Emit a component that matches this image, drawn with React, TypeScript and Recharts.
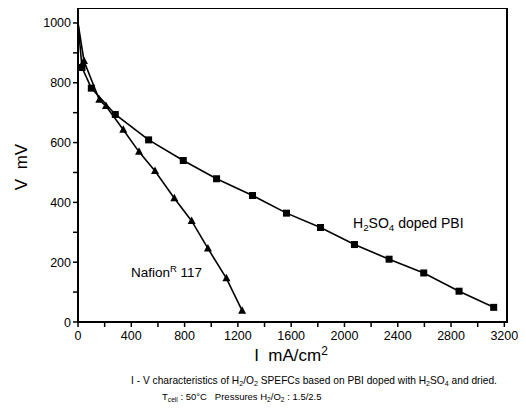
import React from 'react';
import { LineChart, Line, XAxis, YAxis, ReferenceArea } from 'recharts';

// H2SO4 doped PBI (squares)
const pbiCurrent = [0, 30, 100, 280, 530, 790, 1040, 1310, 1565, 1820, 2075, 2335, 2595, 2860, 3120];
const pbiVoltage = [1000, 851, 782, 694, 609, 540, 479, 423, 364, 316, 259, 210, 164, 103, 49];

// Nafion 117 (triangles)
const nafionCurrent = [0, 45, 160, 210, 340, 458, 578, 723, 853, 975, 1114, 1232];
const nafionVoltage = [1000, 873, 743, 722, 643, 569, 505, 414, 338, 246, 146, 38];

const xTicks = [0, 200, 400, 600, 800, 1000, 1200, 1400, 1600, 1800, 2000, 2200, 2400, 2600, 2800, 3000, 3200];
const yTicks = [0, 100, 200, 300, 400, 500, 600, 700, 800, 900, 1000];
const xMax = 3220;
const yMax = 1050;

const pbiData = pbiCurrent.map((i, k) => ({ i, v: pbiVoltage[k] }));
const nafionData = nafionCurrent.map((i, k) => ({ i, v: nafionVoltage[k] }));

const FONT = '"Liberation Sans", Arial, sans-serif';

const SquareDot = (props: any) => {
  const { cx, cy, index } = props;
  if (index === 0 || cx == null) return <g key={`s${index}`} />;
  return <rect key={`s${index}`} x={cx - 3.5} y={cy - 3.5} width={7} height={7} fill="#000" />;
};

const TriangleDot = (props: any) => {
  const { cx, cy, index } = props;
  if (index === 0 || cx == null) return <g key={`t${index}`} />;
  return (
    <polygon
      key={`t${index}`}
      points={`${cx},${cy - 4.5} ${cx + 4},${cy + 3} ${cx - 4},${cy + 3}`}
      fill="#000"
    />
  );
};

const BottomLabel = (props: any) => {
  const { x, y, payload } = props;
  if (payload.value % 400 !== 0) return <g />;
  return (
    <text x={x} y={y + 11} textAnchor="middle" fontSize={12.5} fontFamily={FONT} fill="#000">
      {payload.value}
    </text>
  );
};

const LeftLabel = (props: any) => {
  const { x, y, payload } = props;
  if (payload.value % 200 !== 0) return <g />;
  return (
    <text x={x} y={y + 4.5} textAnchor="end" fontSize={12.5} fontFamily={FONT} fill="#000">
      {payload.value}
    </text>
  );
};

const sub: React.CSSProperties = { fontSize: '70%', position: 'relative', top: '0.3em' };
const sup: React.CSSProperties = { fontSize: '70%', position: 'relative', top: '-0.5em' };

export default function App() {
  const axisLine = { stroke: '#000', strokeWidth: 2 };
  const tickLine = { stroke: '#000', strokeWidth: 1.5 };
  return (
    <div style={{ position: 'relative', width: 526, height: 414, margin: -8, fontFamily: FONT, color: '#000' }}>
      <LineChart width={526} height={414} data={pbiData} margin={{ top: 8, right: 19, bottom: 62, left: 0 }}>
        <ReferenceArea x1={0} x2={xMax} y1={0} y2={yMax} fill="#fff" fillOpacity={1} stroke="#000" strokeWidth={2} />
        <XAxis
          dataKey="i"
          type="number"
          domain={[0, xMax]}
          ticks={xTicks}
          interval={0}
          height={30}
          tickSize={5}
          tickMargin={2}
          tickLine={tickLine}
          axisLine={axisLine}
          tick={<BottomLabel />}
        />
        <YAxis
          type="number"
          domain={[0, yMax]}
          ticks={yTicks}
          interval={0}
          width={78}
          tickSize={5}
          tickMargin={2}
          tickLine={tickLine}
          axisLine={axisLine}
          tick={<LeftLabel />}
        />
        <Line
          data={pbiData}
          dataKey="v"
          type="linear"
          stroke="#000"
          strokeWidth={1.6}
          dot={SquareDot}
          activeDot={false}
          isAnimationActive={false}
        />
        <Line
          data={nafionData}
          dataKey="v"
          type="linear"
          stroke="#000"
          strokeWidth={1.6}
          dot={TriangleDot}
          activeDot={false}
          isAnimationActive={false}
        />
      </LineChart>

      <div style={{ position: 'absolute', left: 22, top: 167, transform: 'translate(-50%, -50%) rotate(-90deg)', fontSize: 17, whiteSpace: 'nowrap' }}>
        V&nbsp;&nbsp;mV
      </div>
      <div style={{ position: 'absolute', left: 291, top: 356, transform: 'translate(-50%, -50%)', fontSize: 17, whiteSpace: 'nowrap' }}>
        I&nbsp;&nbsp;mA/cm<span style={sup}>2</span>
      </div>
      <div style={{ position: 'absolute', left: 353, top: 223, transform: 'translateY(-50%)', fontSize: 14, whiteSpace: 'nowrap' }}>
        H<span style={sub}>2</span>SO<span style={sub}>4</span> doped PBI
      </div>
      <div style={{ position: 'absolute', left: 131, top: 272, transform: 'translateY(-50%)', fontSize: 13.5, whiteSpace: 'nowrap' }}>
        Nafion<span style={sup}>R</span> 117
      </div>
      <div style={{ position: 'absolute', left: 314, top: 380, transform: 'translate(-50%, -50%)', fontSize: 10.2, whiteSpace: 'nowrap' }}>
        I - V characteristics of H<span style={sub}>2</span>/O<span style={sub}>2</span> SPEFCs based on PBI doped with H<span style={sub}>2</span>SO<span style={sub}>4</span> and dried.
      </div>
      <div style={{ position: 'absolute', left: 162, top: 396, transform: 'translateY(-50%)', fontSize: 9.5, whiteSpace: 'nowrap' }}>
        T<span style={sub}>cell</span> : 50°C&nbsp;&nbsp;&nbsp;Pressures H<span style={sub}>2</span>/O<span style={sub}>2</span> : 1.5/2.5
      </div>
    </div>
  );
}
